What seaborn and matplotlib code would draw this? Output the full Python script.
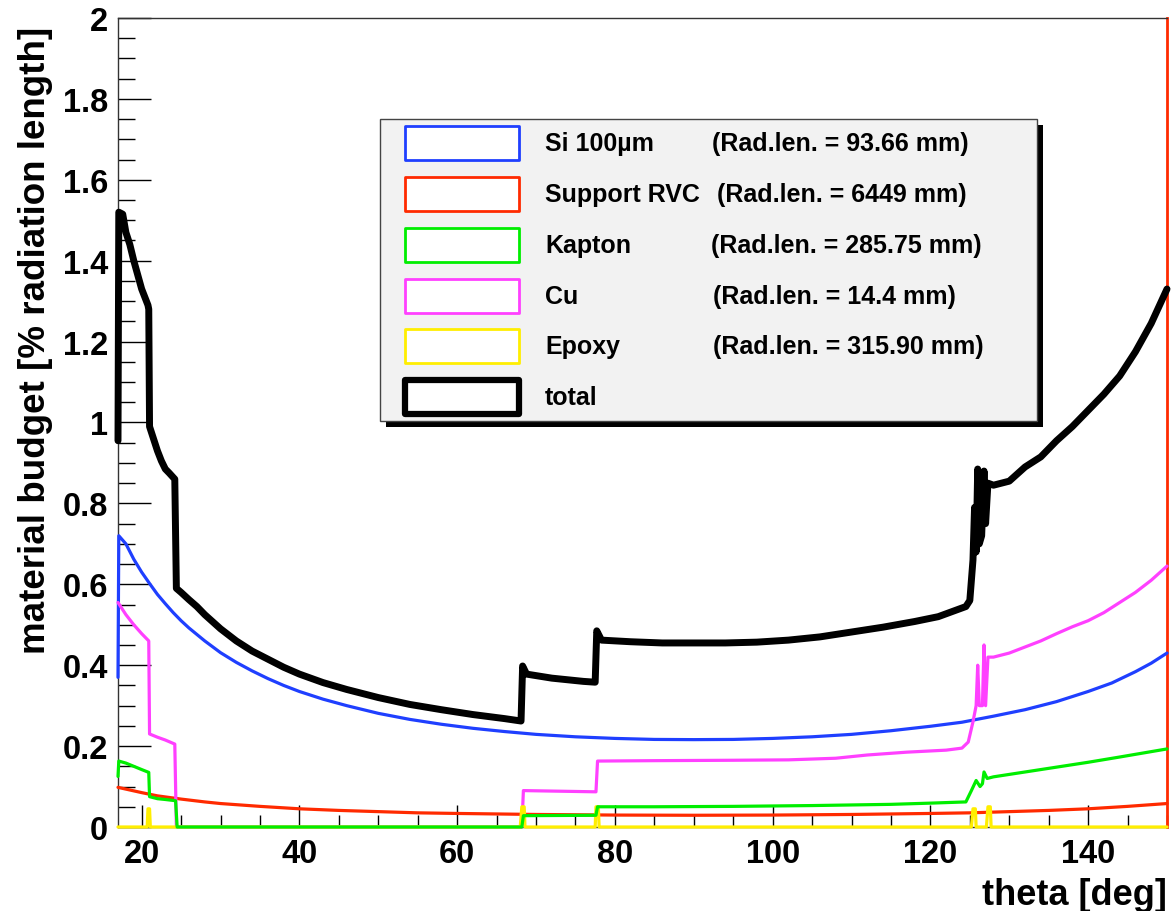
import numpy as np
import pandas as pd
import matplotlib
matplotlib.use("Agg")
import matplotlib.pyplot as plt
import seaborn as sns
from matplotlib.patches import Rectangle
from matplotlib.ticker import MultipleLocator, FuncFormatter

# ---------------- data ----------------
si_theta = [17.0, 17.1, 18, 19, 20, 21, 22, 23, 24, 25, 26, 28, 30, 32, 34, 36, 38, 40, 43, 46,
            50, 54, 58, 62, 66, 70, 75, 80, 85, 90, 95, 100, 105, 110, 115, 120, 124, 128, 132,
            136, 140, 143, 146, 148, 150]
si_val = [0.37, 0.72, 0.70, 0.662, 0.630, 0.602, 0.575, 0.552, 0.530, 0.510, 0.492, 0.460, 0.431,
          0.407, 0.386, 0.367, 0.350, 0.335, 0.316, 0.300, 0.281, 0.266, 0.254, 0.244, 0.236, 0.229,
          0.223, 0.219, 0.2165, 0.216, 0.2165, 0.219, 0.223, 0.229, 0.238, 0.249, 0.259, 0.274,
          0.290, 0.310, 0.335, 0.356, 0.384, 0.405, 0.430]

rvc_theta = [17, 20, 22, 25, 28, 30, 35, 40, 45, 50, 55, 60, 70, 80, 90, 100, 110, 120, 125, 130,
             135, 140, 145, 150]
rvc_val = [0.098, 0.085, 0.077, 0.069, 0.062, 0.058, 0.051, 0.045, 0.041, 0.038, 0.035, 0.0335,
           0.031, 0.0295, 0.029, 0.0295, 0.031, 0.0335, 0.035, 0.038, 0.041, 0.045, 0.051, 0.058]

kap_theta = [17.0, 17.1, 18, 19, 20, 20.9, 21.0, 22, 23, 24.3, 24.5, 68.2, 68.4, 77.6, 77.8, 85,
             95, 105, 115, 120, 124.5, 125.2, 125.8, 126.3, 126.6, 126.8, 127.2, 128, 130, 133,
             136, 140, 144, 147, 150]
kap_val = [0.125, 0.163, 0.158, 0.150, 0.142, 0.135, 0.075, 0.070, 0.068, 0.065, 0.0, 0.0, 0.028,
           0.029, 0.050, 0.050, 0.051, 0.053, 0.056, 0.059, 0.062, 0.09, 0.115, 0.10, 0.107, 0.136,
           0.12, 0.124, 0.130, 0.139, 0.148, 0.160, 0.173, 0.183, 0.193]

cu_theta = [17.0, 18, 19, 20, 20.9, 21.0, 22, 23, 24.2, 24.4, 68.2, 68.4, 77.6, 77.8, 85, 95, 102,
            108, 112, 117, 122, 124, 124.8, 125.4, 125.8, 126.0, 126.2, 126.6, 126.8, 127.0,
            127.3, 128, 130, 132, 134, 136, 138, 140, 142, 144, 146, 148, 150]
cu_val = [0.555, 0.525, 0.50, 0.478, 0.46, 0.23, 0.222, 0.215, 0.205, 0.0, 0.0, 0.09, 0.087, 0.163,
          0.164, 0.165, 0.166, 0.170, 0.178, 0.185, 0.19, 0.195, 0.21, 0.26, 0.30, 0.40, 0.30,
          0.30, 0.45, 0.30, 0.42, 0.42, 0.43, 0.445, 0.46, 0.478, 0.495, 0.51, 0.53, 0.555, 0.58,
          0.61, 0.645]

epo_theta = [17, 20.7, 20.8, 21.0, 21.1, 68.0, 68.2, 68.5, 68.6, 77.5, 77.6, 77.9, 78.0, 125.2,
             125.4, 125.7, 125.8, 127.1, 127.3, 127.6, 127.7, 150]
epo_val = [0, 0, 0.045, 0.045, 0, 0, 0.05, 0.05, 0, 0, 0.05, 0.05, 0, 0, 0.045, 0.045, 0, 0, 0.05,
           0.05, 0, 0]

tot_theta = [17.0, 17.1, 17.6, 18.0, 18.5, 19.0, 19.5, 20.0, 20.5, 20.8, 20.9, 21.0, 21.5, 22,
             22.5, 23, 23.5, 24.2, 24.4, 25, 26, 27, 28, 30, 32, 34, 36, 38, 40, 43, 46, 50, 54,
             58, 62, 66, 68.1, 68.3, 68.8, 72, 76, 77.5, 77.7, 78.3, 82, 86, 90, 94, 98, 102, 106,
             110, 114, 118, 121, 124.5, 125.0, 125.4, 125.6, 125.8, 126.0, 126.2, 126.5, 126.8,
             127.0, 127.3, 128, 130, 132, 134, 136, 138, 140, 142, 144, 146, 148, 150]
tot_val = [0.955, 1.52, 1.515, 1.47, 1.44, 1.40, 1.365, 1.33, 1.305, 1.29, 1.28, 0.99, 0.96, 0.93,
           0.905, 0.885, 0.875, 0.86, 0.59, 0.58, 0.562, 0.545, 0.525, 0.49, 0.46, 0.435, 0.415,
           0.395, 0.378, 0.357, 0.34, 0.32, 0.303, 0.29, 0.278, 0.268, 0.262, 0.398, 0.378, 0.368,
           0.36, 0.358, 0.485, 0.462, 0.458, 0.455, 0.455, 0.455, 0.457, 0.462, 0.47, 0.482, 0.494,
           0.508, 0.52, 0.545, 0.56, 0.66, 0.79, 0.68, 0.885, 0.70, 0.72, 0.88, 0.75, 0.85, 0.845,
           0.855, 0.89, 0.915, 0.955, 0.99, 1.03, 1.07, 1.115, 1.175, 1.245, 1.33]

labels = ["Si 100\u00b5m", "Support RVC", "Kapton", "Cu", "Epoxy", "total"]
radlen = ["(Rad.len. = 93.66 mm)", "(Rad.len. = 6449 mm)", "(Rad.len. = 285.75 mm)",
          "(Rad.len. = 14.4 mm)", "(Rad.len. = 315.90 mm)", ""]

# ---------------- style ----------------
sns.set_theme(style="white")
plt.rcParams["font.family"] = ["Liberation Sans", "DejaVu Sans"]
plt.rcParams["font.weight"] = "bold"
plt.rcParams["axes.labelweight"] = "bold"
plt.rcParams["text.color"] = "black"
plt.rcParams["axes.labelcolor"] = "black"
plt.rcParams["xtick.color"] = "black"
plt.rcParams["ytick.color"] = "black"

C_SI = "#1f3fff"
C_RVC = "#ff2a00"
C_KAP = "#00ee00"
C_CU = "#ff40ff"
C_EPO = "#ffee00"
C_TOT = "#000000"

fig = plt.figure(figsize=(11.72, 9.12), dpi=100)
ax = fig.add_axes([118 / 1172, 1 - 828 / 912, (1167 - 118) / 1172, (828 - 19) / 912])

def draw(theta, val, color, lw, z):
    df = pd.DataFrame({"theta": theta, "val": val})
    sns.lineplot(data=df, x="theta", y="val", ax=ax, color=color, linewidth=lw,
                 sort=False, estimator=None, zorder=z, clip_on=False)

draw(si_theta, si_val, C_SI, 2.3, 3)
draw(rvc_theta, rvc_val, C_RVC, 2.3, 4)
draw(cu_theta, cu_val, C_CU, 2.3, 5)
draw(epo_theta, epo_val, C_EPO, 2.3, 6)
draw(kap_theta, kap_val, C_KAP, 2.3, 7)
draw(tot_theta, tot_val, C_TOT, 5.0, 8)

ax.set_xlim(17, 150)
ax.set_ylim(0, 2)

ax.xaxis.set_major_locator(MultipleLocator(20))
ax.xaxis.set_minor_locator(MultipleLocator(5))
ax.yaxis.set_major_locator(MultipleLocator(0.2))
ax.yaxis.set_minor_locator(MultipleLocator(0.05))
ax.yaxis.set_major_formatter(FuncFormatter(lambda v, p: "%g" % round(v, 2)))
ax.xaxis.set_major_formatter(FuncFormatter(lambda v, p: "%g" % v))

ax.tick_params(axis="x", which="major", direction="in", length=16, width=1.0, pad=8,
               labelsize=23.5, colors="black", bottom=True, top=False)
ax.tick_params(axis="x", which="minor", direction="in", length=8.5, width=1.0, bottom=True,
               top=False, colors="black")
ax.tick_params(axis="y", which="major", direction="in", length=24, width=1.0, pad=7,
               labelsize=23.5, left=True, right=False, colors="black")
ax.tick_params(axis="y", which="minor", direction="in", length=12, width=1.0, left=True,
               right=False, colors="black")
for lab in ax.get_xticklabels() + ax.get_yticklabels():
    lab.set_fontweight("bold")

for s in ["left", "bottom", "top"]:
    ax.spines[s].set_color("#333333")
    ax.spines[s].set_linewidth(1.0)
ax.spines["right"].set_color(C_RVC)
ax.spines["right"].set_linewidth(2.0)

ax.set_xlabel("theta [deg]", fontsize=26, fontweight="bold", loc="right", color="black")
ax.xaxis.set_label_coords(1.0, -0.062)
ax.set_ylabel("material budget [% radiation length]", fontsize=26.5, fontweight="bold",
              loc="top", color="black")
ax.yaxis.set_label_coords(-0.062, 0.99)

# ---------------- legend (ROOT style box) ----------------
def px2ax(px, py):
    return (px - 118) / 1049, (828 - py) / 809

bx0, by0 = px2ax(380, 422)
bx1, by1 = px2ax(1037, 120)
sx, sy = 6 / 1049, 6 / 809
ax.add_patch(Rectangle((bx0 + sx, by0 - sy), bx1 - bx0, by1 - by0, transform=ax.transAxes,
                       facecolor="black", edgecolor="none", zorder=9, clip_on=False))
ax.add_patch(Rectangle((bx0, by0), bx1 - bx0, by1 - by0, transform=ax.transAxes,
                       facecolor="#f2f2f2", edgecolor="#444444", linewidth=1.0, zorder=10,
                       clip_on=False))

colors = [C_SI, C_RVC, C_KAP, C_CU, C_EPO, C_TOT]
centers = [144, 195, 246, 297, 347, 398]
col2 = [712, 717, 711, 713, 713, 713]
for i, (lab, rl, c, cy) in enumerate(zip(labels, radlen, colors, centers)):
    rx0, ry0 = px2ax(405, cy + 17)
    rx1, ry1 = px2ax(519, cy - 17)
    lw = 4.5 if i == 5 else 2.0
    ax.add_patch(Rectangle((rx0, ry0), rx1 - rx0, ry1 - ry0, transform=ax.transAxes,
                           facecolor="white", edgecolor=c, linewidth=lw, zorder=11,
                           clip_on=False, joinstyle="round"))
    tx, ty = px2ax(545, cy)
    ax.text(tx, ty, lab, transform=ax.transAxes, fontsize=18, fontweight="bold", va="center",
            ha="left", zorder=12, color="black")
    if rl:
        tx2, _ = px2ax(col2[i], cy)
        ax.text(tx2, ty, rl, transform=ax.transAxes, fontsize=18, fontweight="bold",
                va="center", ha="left", zorder=12, color="black")

fig.savefig("out.png", dpi=100)
